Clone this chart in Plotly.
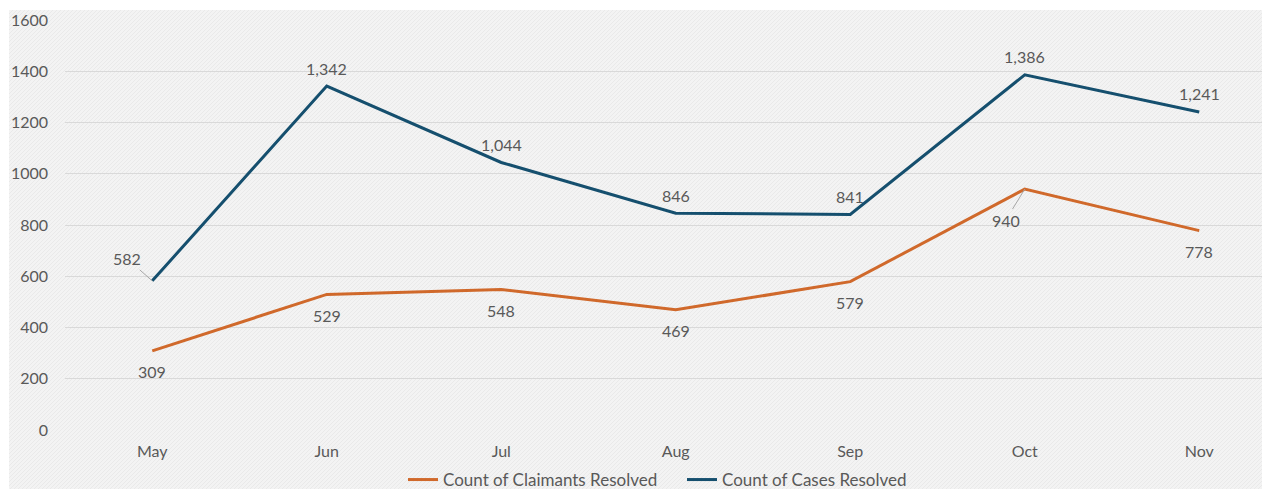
import plotly.graph_objects as go
import base64

months = ["May", "Jun", "Jul", "Aug", "Sep", "Oct", "Nov"]
claimants = [309, 529, 548, 469, 579, 940, 778]
cases = [582, 1342, 1044, 846, 841, 1386, 1241]
y_ticks = [0, 200, 400, 600, 800, 1000, 1200, 1400, 1600]

ORANGE = "#d0692b"
BLUE = "#154f6e"
TXT = "#595959"
FONT = "Lato"
FS = 16

# page body has 8px margin -> figure sized to fill the rest of the window
W, H = 1262, 481
L, R, T, B = 57, 0, 12, 59
pw = W - L - R
ph = H - T - B

fig = go.Figure()
fig.add_trace(go.Scatter(x=months, y=claimants, mode="lines", name="Count of Claimants Resolved",
                         line=dict(color=ORANGE, width=3)))
fig.add_trace(go.Scatter(x=months, y=cases, mode="lines", name="Count of Cases Resolved",
                         line=dict(color=BLUE, width=3)))

# data labels
for i, (m, v) in enumerate(zip(months, cases)):
    if i == 0:
        fig.add_annotation(x=m, y=v, text=f"{v:,}", showarrow=True, arrowhead=0, arrowwidth=1,
                           arrowcolor="#a6a6a6", ax=-25, ay=-22, font=dict(color=TXT, size=FS, family=FONT))
    else:
        fig.add_annotation(x=m, y=v, text=f"{v:,}", showarrow=False, yshift=18,
                           font=dict(color=TXT, size=FS, family=FONT))
for i, (m, v) in enumerate(zip(months, claimants)):
    if i == 5:
        fig.add_annotation(x=m, y=v, text=f"{v:,}", showarrow=True, arrowhead=0, arrowwidth=1,
                           arrowcolor="#a6a6a6", ax=-19, ay=31, font=dict(color=TXT, size=FS, family=FONT))
    else:
        fig.add_annotation(x=m, y=v, text=f"{v:,}", showarrow=False, yshift=-21,
                           font=dict(color=TXT, size=FS, family=FONT))

# hatched chart-area background
bx, by = 1, 2
bw, bh = W - bx, H - by
svg = (f'<svg xmlns="http://www.w3.org/2000/svg" width="{bw}" height="{bh}" viewBox="0 0 {bw} {bh}">'
       '<defs><pattern id="p" width="4" height="4" patternUnits="userSpaceOnUse">'
       '<rect width="4" height="4" fill="#f3f3f3"/>'
       '<path d="M-1,1 l2,-2 M0,4 l4,-4 M3,5 l2,-2" stroke="#e9e9e9" stroke-width="1"/>'
       '</pattern></defs><rect width="100%" height="100%" fill="url(#p)"/></svg>')
src = "data:image/svg+xml;base64," + base64.b64encode(svg.encode()).decode()
fig.add_layout_image(dict(source=src, xref="paper", yref="paper",
                          x=(bx - L) / pw, y=(H - B - by) / ph,
                          sizex=bw / pw, sizey=bh / ph, sizing="stretch",
                          xanchor="left", yanchor="top", layer="below"))

fig.update_layout(
    width=W, height=H,
    margin=dict(l=L, r=R, t=T, b=B, autoexpand=False),
    paper_bgcolor="white",
    plot_bgcolor="rgba(0,0,0,0)",
    font=dict(family=FONT, color=TXT, size=FS),
    showlegend=True,
    legend=dict(orientation="h", x=(395 - L) / pw, xanchor="left",
                yref="container", y=9 / H, yanchor="middle",
                font=dict(size=17, color=TXT, family=FONT), bgcolor="rgba(0,0,0,0)",
                entrywidth=234, entrywidthmode="pixels"),
    xaxis=dict(type="category", range=[-0.5, -0.5 + pw / 174.5], showgrid=False, zeroline=False,
               showline=False, ticks="", tickfont=dict(size=FS, color=TXT), ticklabelstandoff=10,
               automargin=False),
    yaxis=dict(range=[0, 1600], tickvals=y_ticks, ticktext=[str(v) for v in y_ticks],
               showgrid=True, gridcolor="#d9d9d9", gridwidth=1, zeroline=False, showline=False,
               ticks="", tickfont=dict(size=FS, color=TXT), ticklabelstandoff=16, automargin=False),
)

fig.write_html("out.html")
